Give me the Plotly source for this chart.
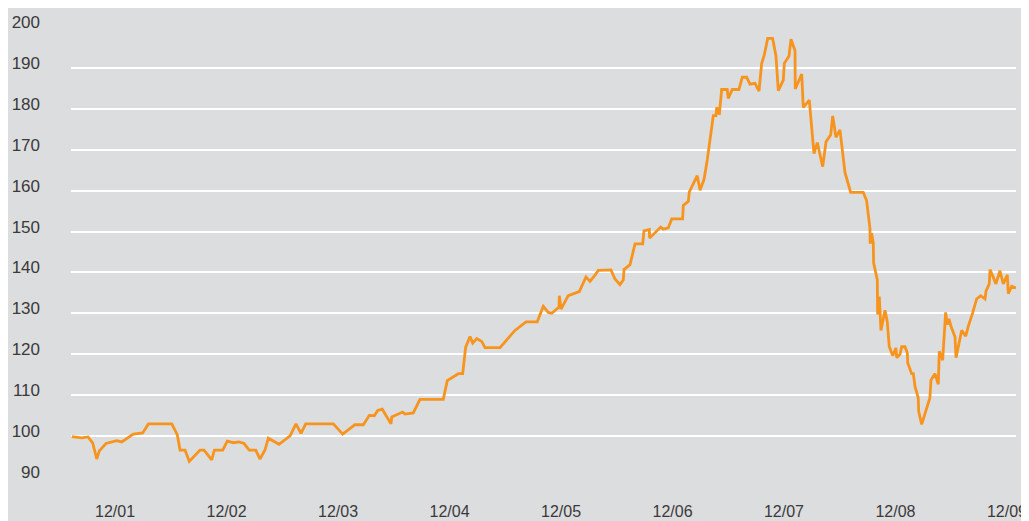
import plotly.graph_objects as go

# decimal-year positions and index values
years = [
    2001.529, 2001.618, 2001.675, 2001.717, 2001.753, 2001.776, 2001.836, 2001.932,
    2001.977, 2002.081, 2002.165, 2002.216, 2002.426, 2002.476, 2002.500, 2002.545,
    2002.583, 2002.634, 2002.679, 2002.715, 2002.784, 2002.808, 2002.883, 2002.924,
    2002.978, 2003.029, 2003.074, 2003.121, 2003.179, 2003.217, 2003.262, 2003.292,
    2003.388, 2003.487, 2003.540, 2003.585, 2003.627, 2003.875, 2003.959, 2004.069,
    2004.144, 2004.198, 2004.243, 2004.273, 2004.314, 2004.392, 2004.399, 2004.497,
    2004.518, 2004.592, 2004.652, 2004.861, 2004.897, 2004.996, 2005.035, 2005.062,
    2005.101, 2005.125, 2005.161, 2005.206, 2005.235, 2005.370, 2005.504, 2005.603,
    2005.704, 2005.758, 2005.803, 2005.834, 2005.899, 2005.902, 2005.917, 2005.982,
    2006.081, 2006.141, 2006.177, 2006.213, 2006.252, 2006.365, 2006.401, 2006.446,
    2006.476, 2006.482, 2006.536, 2006.581, 2006.650, 2006.661, 2006.709, 2006.712,
    2006.760, 2006.811, 2006.834, 2006.879, 2006.910, 2007.008, 2007.014, 2007.059,
    2007.068, 2007.139, 2007.164, 2007.200, 2007.229, 2007.283, 2007.307, 2007.313,
    2007.328, 2007.337, 2007.358, 2007.408, 2007.417, 2007.453, 2007.513, 2007.543,
    2007.582, 2007.612, 2007.657, 2007.693, 2007.717, 2007.740, 2007.771, 2007.815,
    2007.845, 2007.866, 2007.911, 2007.920, 2007.962, 2007.980, 2008.016, 2008.018,
    2008.076, 2008.090, 2008.144, 2008.186, 2008.216, 2008.264, 2008.294, 2008.336,
    2008.354, 2008.383, 2008.419, 2008.464, 2008.515, 2008.628, 2008.658, 2008.688,
    2008.690, 2008.703, 2008.718, 2008.721, 2008.754, 2008.757, 2008.772, 2008.787,
    2008.823, 2008.843, 2008.861, 2008.892, 2008.921, 2008.928, 2008.957, 2008.973,
    2009.002, 2009.023, 2009.027, 2009.062, 2009.077, 2009.092, 2009.121, 2009.125,
    2009.152, 2009.191, 2009.226, 2009.235, 2009.271, 2009.301, 2009.310, 2009.340,
    2009.352, 2009.367, 2009.382, 2009.397, 2009.415, 2009.435, 2009.451, 2009.460,
    2009.487, 2009.511, 2009.547, 2009.570, 2009.609, 2009.645, 2009.681, 2009.720,
    2009.729, 2009.758, 2009.765, 2009.818, 2009.854, 2009.884, 2009.920, 2009.929,
    2009.959, 2009.998,
]

values = [
    99.8, 99.5, 99.7, 98.2, 94.3, 96.3, 98.1, 98.8,
    98.5, 100.4, 100.7, 102.9, 102.9, 100.2, 96.5, 96.5,
    93.7, 95.3, 96.5, 96.5, 94.1, 96.5, 96.5, 98.7,
    98.3, 98.5, 98.1, 96.5, 96.5, 94.3, 96.5, 99.4,
    97.9, 100.0, 102.9, 100.6, 102.9, 102.9, 100.4, 102.7,
    102.7, 105.0, 104.9, 106.2, 106.5, 102.9, 104.6, 105.8,
    105.3, 105.6, 108.9, 108.9, 113.5, 115.2, 115.2, 121.7,
    124.3, 122.7, 123.8, 123.1, 121.6, 121.6, 125.8, 127.9,
    127.9, 131.7, 130.2, 130.0, 131.5, 134.3, 131.0, 134.3,
    135.3, 138.9, 137.8, 139.0, 140.5, 140.6, 138.4, 137.0,
    138.2, 140.7, 141.9, 147.0, 147.0, 150.2, 150.5, 148.4,
    149.6, 151.1, 150.6, 150.9, 153.1, 153.1, 156.4, 157.4,
    159.7, 163.7, 160.1, 162.8, 167.6, 178.4, 178.4, 180.4,
    179.8, 178.6, 184.8, 184.8, 182.6, 184.8, 184.8, 187.8,
    187.8, 186.1, 186.3, 184.4, 191.2, 193.2, 197.3, 197.3,
    193.0, 184.5, 187.1, 191.2, 193.0, 197.1, 194.3, 184.9,
    188.6, 180.4, 182.2, 169.1, 171.8, 165.9, 172.0, 173.7,
    178.3, 173.1, 174.9, 164.5, 159.6, 159.6, 157.6, 150.8,
    147.0, 149.6, 147.2, 142.3, 138.2, 129.7, 134.1, 125.8,
    130.7, 128.0, 121.9, 119.6, 121.5, 119.1, 119.9, 121.8,
    121.8, 120.3, 117.8, 115.2, 115.2, 112.1, 109.3, 106.0,
    102.8, 106.0, 109.3, 113.6, 115.2, 112.6, 120.7, 118.5,
    124.4, 130.2, 127.2, 128.6, 126.8, 125.6, 124.2, 119.1,
    122.3, 125.8, 124.4, 126.8, 130.1, 133.5, 134.3, 133.5,
    135.4, 137.2, 140.7, 137.2, 140.4, 137.2, 139.4, 134.8,
    136.6, 136.2,
]

tick_positions = [2001.917, 2002.917, 2003.917, 2004.917, 2005.917,
                  2006.917, 2007.917, 2008.917, 2009.917]
tick_labels = ["12/01", "12/02", "12/03", "12/04", "12/05",
               "12/06", "12/07", "12/08", "12/09"]
y_ticks = [90, 100, 110, 120, 130, 140, 150, 160, 170, 180, 190, 200]

BG = "#dcdddf"
FONT = "Liberation Sans Narrow, Arial Narrow, Liberation Sans, Arial, sans-serif"

fig = go.Figure()
fig.add_trace(go.Scatter(
    x=years, y=values, mode="lines",
    line=dict(color="#f7941d", width=2.8),
    hoverinfo="skip", showlegend=False,
))

# the page body adds an 8px offset, so the figure is drawn 8px smaller
fig.update_layout(
    width=1021, height=513,
    paper_bgcolor=BG, plot_bgcolor=BG,
    margin=dict(l=63, r=13, t=18.6, b=43.6, autoexpand=False),
    font=dict(family=FONT, size=17, color="#3a3a3a"),
    xaxis=dict(
        range=[2001.522, 2009.998], automargin=False,
        tickmode="array", tickvals=tick_positions, ticktext=tick_labels,
        showgrid=False, zeroline=False, showline=False,
        ticks="", ticklabelstandoff=23, ticklabeloverflow="allow",
        tickfont=dict(size=16),
    ),
    yaxis=dict(
        range=[89.9, 200.1], automargin=False,
        tickmode="array", tickvals=y_ticks,
        showgrid=True, gridcolor="white", gridwidth=1.5,
        zeroline=False, showline=False,
        ticks="", ticklabelstandoff=30, ticklabelshift=-5,
    ),
)

fig.write_html("out.html")
